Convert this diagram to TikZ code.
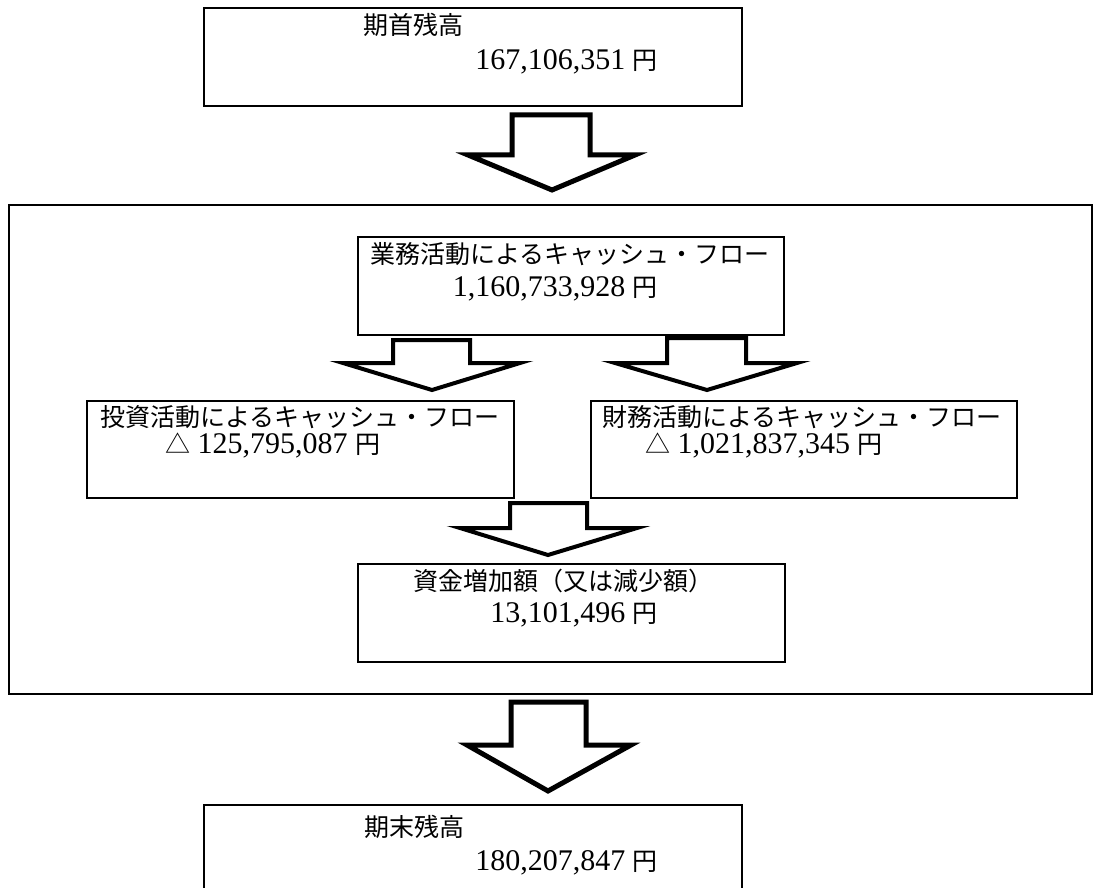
\documentclass[tikz,border=0pt]{standalone}
\usepackage{fontspec}
\setmainfont{Liberation Serif}
\newfontfamily\cjk{Noto Sans CJK JP}
\newcommand{\jtext}[1]{{\cjk\fontsize{25}{25}\selectfont #1}}
\newcommand{\ntext}[1]{{\fontsize{30}{30}\selectfont #1}}
\begin{document}
\begin{tikzpicture}[x=1pt,y=-1pt,
  box/.style={draw, line width=2pt, fill=none, inner sep=0pt, anchor=north west},
  blockarrow/.style={draw, line width=#1, line join=miter, miter limit=20, fill=white},
  lbl/.style={inner sep=0pt, anchor=base west},
  amt/.style={inner sep=0pt, anchor=base east}]
\useasboundingbox (0,0) rectangle (1093,888);
\clip (0,0) rectangle (1093,888);
% boxes
\node[box, minimum width=538pt, minimum height=98pt] (start) at (203,7) {};
\node[box, minimum width=1083pt, minimum height=489pt] (period) at (8,204) {};
\node[box, minimum width=426pt, minimum height=98pt] (ops) at (357,236) {};
\node[box, minimum width=427pt, minimum height=97pt] (inv) at (86,400) {};
\node[box, minimum width=426pt, minimum height=97pt] (fin) at (590,400) {};
\node[box, minimum width=427pt, minimum height=98pt] (chg) at (357,563) {};
\node[box, minimum width=538pt, minimum height=120pt] (end) at (203,804) {};
% texts
\node[lbl] (startT) at (363,35) {\jtext{期首残高}};
\node[amt] (startV) at (658,70) {\ntext{167,106,351 }\jtext{円}};
\node[lbl] (opsT) at (370,263) {\jtext{業務活動によるキャッシュ・フロー}};
\node[amt] (opsV) at (658,296) {\ntext{1,160,733,928 }\jtext{円}};
\node[lbl] (invT) at (100,426) {\jtext{投資活動によるキャッシュ・フロー}};
\node[lbl] (invV) at (165,453) {\jtext{△}\ntext{ 125,795,087 }\jtext{円}};
\node[lbl] (finT) at (602,426) {\jtext{財務活動によるキャッシュ・フロー}};
\node[lbl] (finV) at (645,453) {\jtext{△}\ntext{ 1,021,837,345 }\jtext{円}};
\node[lbl] (chgT) at (413,590) {\jtext{資金増加額（又は減少額）}};
\node[amt] (chgV) at (658,622) {\ntext{13,101,496 }\jtext{円}};
\node[lbl] (endT) at (364,836) {\jtext{期末残高}};
\node[amt] (endV) at (658,870) {\ntext{180,207,847 }\jtext{円}};
% block arrows
\draw[blockarrow=5pt] (512,115) -- (590,115) -- (590,155) -- (635,155) -- (552,190) -- (468,155) -- (512,155) -- cycle;
\draw[blockarrow=4pt] (393,340) -- (470,340) -- (470,363) -- (520,363) -- (432,390) -- (343,363) -- (393,363) -- cycle;
\draw[blockarrow=4pt] (667,338) -- (746,338) -- (746,363) -- (797,363) -- (707,390) -- (615,363) -- (667,363) -- cycle;
\draw[blockarrow=4pt] (510,503) -- (587,503) -- (587,528) -- (637,528) -- (548,555) -- (460,528) -- (510,528) -- cycle;
\draw[blockarrow=5pt] (511,702) -- (586,702) -- (586,745) -- (631,745) -- (548,791) -- (467,745) -- (511,745) -- cycle;
\end{tikzpicture}
\end{document}
